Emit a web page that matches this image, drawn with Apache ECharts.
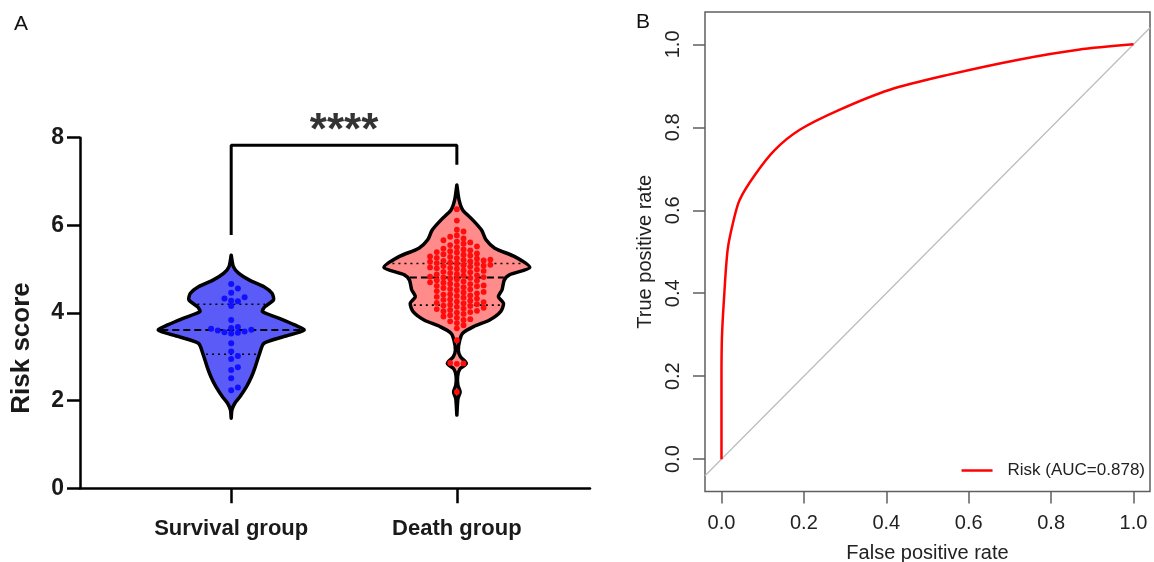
<!DOCTYPE html>
<html>
<head>
<meta charset="utf-8">
<script src="https://cdn.jsdelivr.net/npm/echarts@6.0.0/dist/echarts.min.js"></script>
<style>
html, body { margin: 0; padding: 0; background: #fff; }
#main { width: 1154px; height: 562px; }
</style>
</head>
<body>
<div id="main"></div>
<script>
// ---- panel A: risk score by outcome ----
var groups = ['Survival group', 'Death group'];

var survivalScores = [4.66, 4.56, 4.46, 4.36, 4.33, 4.28, 4.27, 4.16, 3.84, 3.68, 3.66, 3.64,
    3.62, 3.60, 3.58, 3.56, 3.55, 3.53, 3.31, 3.12, 3.02, 2.95, 2.76, 2.70, 2.51, 2.30, 2.24];

var deathScores = [6.37, 6.11, 5.90, 5.86,
    5.77, 5.74, 5.70, 5.66, 5.63, 5.61,
    5.58, 5.55, 5.52, 5.50, 5.47, 5.45, 5.43, 5.41,
    5.39, 5.38, 5.36, 5.34, 5.33, 5.31, 5.29, 5.28, 5.26, 5.25, 5.24, 5.22, 5.21, 5.20,
    5.19, 5.18, 5.17, 5.15, 5.14, 5.13, 5.12, 5.10, 5.09, 5.08, 5.07, 5.06, 5.04, 5.03, 5.02, 5.01,
    4.99, 4.97, 4.96, 4.94, 4.93, 4.91, 4.89, 4.88, 4.86, 4.85, 4.83, 4.82, 4.81, 4.80,
    4.79, 4.77, 4.75, 4.74, 4.72, 4.70, 4.69, 4.67, 4.66, 4.64, 4.63, 4.62, 4.61,
    4.59, 4.57, 4.55, 4.54, 4.52, 4.50, 4.48, 4.47, 4.45, 4.43, 4.42, 4.40,
    4.39, 4.37, 4.35, 4.33, 4.31, 4.30, 4.28, 4.26, 4.25, 4.23, 4.22, 4.20,
    4.19, 4.17, 4.16, 4.14, 4.12, 4.10, 4.09, 4.07, 4.05, 4.04, 4.02, 4.01,
    3.98, 3.95, 3.92, 3.89, 3.86, 3.84, 3.81,
    3.77, 3.72, 3.65, 3.38, 2.86, 2.85, 2.84, 2.20];

// violin outlines: density (peak = 1) at each risk score
var survivalDensY = [5.32, 5.06, 4.91, 4.75, 4.60, 4.45, 4.30, 4.14, 4.03, 3.88, 3.73, 3.61,
    3.46, 3.31, 3.08, 2.77, 2.55, 2.32, 2.09, 1.94, 1.79, 1.60];
var survivalDens = [0, 0.03, 0.10, 0.25, 0.45, 0.56, 0.58, 0.46, 0.43, 0.66, 0.87, 1.0,
    0.72, 0.45, 0.39, 0.33, 0.28, 0.21, 0.12, 0.05, 0.01, 0];
var deathDensY = [6.92, 6.58, 6.35, 6.12, 5.89, 5.67, 5.48, 5.28, 5.04, 4.87, 4.75, 4.53,
    4.37, 4.22, 4.03, 3.84, 3.69, 3.54, 3.38, 3.15, 3.00, 2.85, 2.72, 2.55, 2.35, 2.20, 2.05, 1.67];
var deathDens = [0, 0.03, 0.08, 0.22, 0.34, 0.40, 0.52, 0.80, 1.0, 0.72, 0.65, 0.62,
    0.57, 0.64, 0.60, 0.45, 0.23, 0.08, 0.04, 0.02, 0.05, 0.13, 0.04, 0.01, 0.015, 0.045, 0.015, 0];

// lower quartile, median, upper quartile
var survivalQuart = [3.06, 3.61, 4.20];
var deathQuart = [4.18, 4.81, 5.13];

var bracketX = [1, 1, 2, 2];
var bracketY = [5.78, 7.83, 7.83, 7.38];
var sigText = '****';
var sigPos = [1.5, 8.13];

// ---- panel B: ROC ----
var rocFpr = [0, 0, 0, 0.001, 0.006, 0.015, 0.028, 0.044, 0.081, 0.129, 0.19, 0.286, 0.407, 0.552, 0.721, 0.866, 1.0];
var rocTpr = [0, 0.10, 0.19, 0.29, 0.385, 0.505, 0.57, 0.625, 0.685, 0.745, 0.794, 0.842, 0.89, 0.927, 0.963, 0.987, 1.0];
var rocName = 'Risk (AUC=0.878)';
var chanceX = [-0.04, 1.04];
var rateTicks = [0, 0.2, 0.4, 0.6, 0.8, 1.0];

var halfW = 0.323;   // widest violin half-width in group units
var violins = [
    { pos: 1, ys: survivalDensY, d: survivalDens, q: survivalQuart, fill: '#5b5cf7' },
    { pos: 2, ys: deathDensY, d: deathDens, q: deathQuart, fill: '#ff8b8b' }
];

function densAt(v, y)
{
    for (var i = 0; i < v.ys.length - 1; i++) {
        if (y <= v.ys[i] && y >= v.ys[i + 1]) {
            var t = (v.ys[i] - y) / (v.ys[i] - v.ys[i + 1]);
            return v.d[i] + t * (v.d[i + 1] - v.d[i]);
        }
    }
    return 0;
}

function renderViolin(params, api)
{
    var v = violins[params.dataIndex];
    var right = [], left = [];
    for (var i = 0; i < v.ys.length; i++) {
        right.push(api.coord([v.pos + v.d[i] * halfW, v.ys[i]]));
        left.unshift(api.coord([v.pos - v.d[i] * halfW, v.ys[i]]));
    }
    var children = [{
        type: 'polygon',
        shape: { points: right.concat(left), smooth: 0.25 },
        style: { fill: v.fill, stroke: '#000', lineWidth: 3.5, lineJoin: 'round' }
    }];
    v.q.forEach(function(q, k) {
        var w = densAt(v, q) * halfW;
        var a = api.coord([v.pos - w, q]);
        var b = api.coord([v.pos + w, q]);
        children.push({
            type: 'line',
            shape: { x1: a[0] + 3, y1: a[1], x2: b[0] - 3, y2: b[1] },
            style: { stroke: '#000', lineWidth: k == 1 ? 2 : 1.6, lineDash: k == 1 ? [7, 4] : [2, 4] }
        });
    });
    return { type: 'group', children: children };
}

// simple beeswarm: stack dots into columns so they do not overlap
function swarm(values, pos)
{
    var p0 = myChart.convertToPixel({ gridIndex: 0 }, [pos, 0]);
    var p1 = myChart.convertToPixel({ gridIndex: 0 }, [pos + 1, 1]);
    var pxX = p1[0] - p0[0], pxY = p0[1] - p1[1];
    var colGap = 6.7, rowGap = 5.2;
    var placed = [], out = [];
    values.slice().sort(function(a, b) { return a - b; }).forEach(function(val) {
        var py = val * pxY;
        for (var k = 0; k < 40; k++) {
            var col = k == 0 ? 0 : (k % 2 ? (k + 1) / 2 : -k / 2);
            var hit = placed.some(function(p) { return p.col === col && Math.abs(p.py - py) < rowGap; });
            if (!hit) {
                placed.push({ col: col, py: py });
                out.push([pos + col * colGap / pxX, val]);
                break;
            }
        }
    });
    return out;
}

var myChart = echarts.init(document.getElementById('main'), null, { renderer: 'canvas' });

var boldFont = 'Liberation Sans, Arial, sans-serif';

var option = {
    animation: false,
    backgroundColor: '#fff',
    title: [
        { text: 'A', left: 9, top: 9, textStyle: { fontSize: 21, fontWeight: 'normal', color: '#111', fontFamily: boldFont } },
        { text: 'B', left: 631, top: 7, textStyle: { fontSize: 21, fontWeight: 'normal', color: '#111', fontFamily: boldFont } }
    ],
    legend: {
        data: [rocName],
        right: 4,
        top: 457,
        icon: 'rect',
        itemWidth: 31,
        itemHeight: 2.5,
        textStyle: { fontSize: 17, color: '#222', fontFamily: boldFont, padding: [0, 0, 0, 10] }
    },
    grid: [
        { left: 80, top: 137.7, width: 510, height: 350.6, outerBoundsMode: 'none' },
        { left: 705, top: 12, right: 4, bottom: 70.5, show: true, borderColor: '#5f5f5f', borderWidth: 1.5, outerBoundsMode: 'none' }
    ],
    xAxis: [
        {
            type: 'value', gridIndex: 0, min: 0.33, max: 2.59,
            splitLine: { show: false },
            axisLine: { show: true, onZero: false, lineStyle: { color: '#000', width: 2.5 } },
            axisTick: { customValues: [1, 2], length: 15, lineStyle: { color: '#000', width: 2.5 } },
            axisLabel: {
                customValues: [1, 2], margin: 30,
                formatter: function(v) { return groups[Math.round(v) - 1]; },
                fontSize: 22, fontWeight: 'bold', color: '#1a1a1a', fontFamily: boldFont
            }
        },
        {
            type: 'value', gridIndex: 1, min: -0.04, max: 1.04,
            splitLine: { show: false },
            axisLine: { show: false, onZero: false },
            axisTick: { customValues: rateTicks, length: 12, lineStyle: { color: '#5f5f5f', width: 1.5 } },
            axisLabel: {
                customValues: rateTicks, margin: 22,
                formatter: function(v) { return v.toFixed(1); },
                fontSize: 20, color: '#222', fontFamily: boldFont
            },
            name: 'False positive rate', nameLocation: 'middle', nameGap: 52,
            nameTextStyle: { fontSize: 20, color: '#222', fontFamily: boldFont }
        }
    ],
    yAxis: [
        {
            type: 'value', gridIndex: 0, min: 0, max: 8, interval: 2,
            splitLine: { show: false },
            axisLine: { show: true, onZero: false, lineStyle: { color: '#000', width: 2.5 } },
            axisTick: { show: true, length: 13, lineStyle: { color: '#000', width: 2.5 } },
            axisLabel: { margin: 16, fontSize: 23, fontWeight: 'bold', color: '#1a1a1a', fontFamily: boldFont },
            name: 'Risk score', nameLocation: 'middle', nameGap: 45,
            nameTextStyle: { fontSize: 26, fontWeight: 'bold', color: '#1a1a1a', fontFamily: boldFont, padding: [0, 70, 0, 0] }
        },
        {
            type: 'value', gridIndex: 1, min: -0.078, max: 1.078,
            splitLine: { show: false },
            axisLine: { show: false, onZero: false },
            axisTick: { customValues: rateTicks, length: 12, lineStyle: { color: '#5f5f5f', width: 1.5 } },
            axisLabel: {
                customValues: rateTicks, margin: 22, rotate: 90,
                formatter: function(v) { return v.toFixed(1); },
                fontSize: 20, color: '#222', fontFamily: boldFont
            },
            name: 'True positive rate', nameLocation: 'middle', nameGap: 50,
            nameTextStyle: { fontSize: 20, color: '#222', fontFamily: boldFont }
        }
    ],
    series: [
        {
            name: 'violin',
            type: 'custom',
            xAxisIndex: 0, yAxisIndex: 0,
            renderItem: renderViolin,
            data: [[1], [2]],
            silent: true,
            z: 2
        },
        {
            name: 'bracket',
            type: 'line',
            xAxisIndex: 0, yAxisIndex: 0,
            data: bracketX.map(function(x, i) { return [x, bracketY[i]]; }),
            symbol: 'none',
            lineStyle: { color: '#000', width: 3 },
            clip: false, silent: true
        },
        {
            name: 'sig',
            type: 'scatter',
            xAxisIndex: 0, yAxisIndex: 0,
            data: [sigPos],
            symbolSize: 0,
            clip: false, silent: true,
            label: { show: true, position: 'inside', formatter: sigText, fontSize: 44, fontWeight: 'bold', color: '#000', fontFamily: boldFont }
        },
        {
            name: 'survivalDots',
            type: 'scatter',
            xAxisIndex: 0, yAxisIndex: 0,
            data: [],
            symbolSize: 6,
            itemStyle: { color: '#1010ff', opacity: 1 },
            silent: true, z: 3
        },
        {
            name: 'deathDots',
            type: 'scatter',
            xAxisIndex: 0, yAxisIndex: 0,
            data: [],
            symbolSize: 5.8,
            itemStyle: { color: '#ff0d0d', opacity: 1 },
            silent: true, z: 3
        },
        {
            name: 'chance',
            type: 'line',
            xAxisIndex: 1, yAxisIndex: 1,
            data: chanceX.map(function(x) { return [x, x]; }),
            symbol: 'none',
            lineStyle: { color: '#bdbdbd', width: 1.3 },
            silent: true
        },
        {
            name: rocName,
            type: 'line',
            xAxisIndex: 1, yAxisIndex: 1,
            data: rocFpr.map(function(x, i) { return [x, rocTpr[i]]; }),
            symbol: 'none',
            smooth: 0.3,
            itemStyle: { color: '#ff0000' },
            lineStyle: { color: '#ff0000', width: 2.5 },
            silent: true
        }
    ]
};

myChart.setOption(option);
myChart.setOption({
    series: [
        { name: 'survivalDots', data: swarm(survivalScores, 1) },
        { name: 'deathDots', data: swarm(deathScores, 2) }
    ]
});
</script>
</body>
</html>
